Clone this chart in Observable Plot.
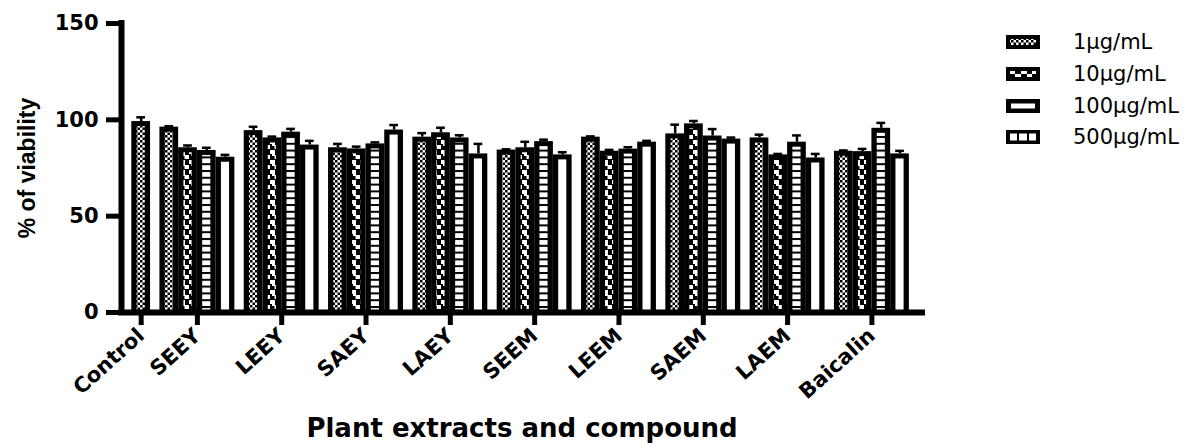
<!DOCTYPE html>
<html><head><meta charset="utf-8">
<script src="https://cdn.jsdelivr.net/npm/d3@7"></script>
<script src="https://cdn.jsdelivr.net/npm/@observablehq/plot@0.6"></script>
<style>
body{margin:0;background:#fff;}
#wrap{position:relative;width:1202px;height:446px;overflow:hidden;}
#legend{position:absolute;left:1006px;top:0;font-family:"DejaVu Sans";font-size:21px;color:#000;}
.row{position:absolute;left:0;height:24px;display:flex;align-items:center;white-space:nowrap;}
.row span{margin-left:33px;}
#chart svg g[aria-label$="tick label"] text{font-weight:bold;}
</style></head><body>
<div id="wrap"><div id="chart"></div><div id="legend"></div></div>
<script>
// ---- data ----
const groups = ["Control","SEEY","LEEY","SAEY","LAEY","SEEM","LEEM","SAEM","LAEM","Baicalin"];
const concentrations = ["1µg/mL","10µg/mL","100µg/mL","500µg/mL"];
const controlValue = 99.1;
const controlError = 2.2;
// per concentration, for extracts SEEY..Baicalin
const c1   = [96.2, 94.4, 85.5, 91.0, 84.3, 91.0, 92.7, 90.6, 83.7];
const c10  = [85.5, 90.6, 84.9, 93.3, 85.5, 83.7, 97.9, 81.8, 83.5];
const c100 = [84.1, 93.6, 87.5, 90.6, 88.7, 84.8, 91.6, 88.4, 95.6];
const c500 = [80.6, 86.9, 94.7, 82.3, 81.8, 88.4, 90.0, 80.2, 82.3];
const e1   = [0.5, 2.0, 2.0, 2.1, 0.4, 0.4, 4.8, 1.7, 0.4];
const e10  = [1.2, 0.7, 1.2, 2.6, 3.1, 0.7, 1.5, 0.5, 1.4];
const e100 = [1.4, 1.7, 0.8, 1.4, 1.0, 1.0, 3.6, 3.5, 2.8];
const e500 = [1.2, 2.2, 2.6, 5.2, 1.4, 0.7, 0.8, 2.1, 1.6];
const yTicks = [0, 50, 100, 150];
const yTitle = "% of viability";
const xTitle = "Plant extracts and compound";

// ---- table built from arrays (slot layout from order) ----
const GAP = 0.5;
const seriesVals = [c1, c10, c100, c500];
const seriesErr = [e1, e10, e100, e500];
const rows = [{group: groups[0], s: 0, value: controlValue, err: controlError, x1: 0}];
const centers = [0.5];
for (let g = 1; g < groups.length; g++) {
  const start = 1 + GAP + (g - 1) * (concentrations.length + GAP);
  centers.push(start + concentrations.length / 2);
  for (let s = 0; s < concentrations.length; s++) {
    rows.push({group: groups[g], s, value: seriesVals[s][g - 1], err: seriesErr[s][g - 1], x1: start + s});
  }
}
const lastX2 = d3.max(rows, d => d.x1 + 1);
const xDomain = [-0.55, lastX2 + 0.7];
const nameByCenter = new Map(centers.map((c, i) => [c, groups[i]]));
const patterns = ["url(#pCheck)", "url(#pWave)", "url(#pLadder)", "#fff"];

const plot = Plot.plot({
  width: 1202, height: 446,
  marginLeft: 121, marginRight: 280, marginTop: 23, marginBottom: 134,
  x: {domain: xDomain, axis: null},
  y: {domain: [0, 150], axis: null},
  style: {fontFamily: "DejaVu Sans", color: "#000", background: "#fff", overflow: "visible"},
  marks: [
    Plot.rect(rows, {x1: "x1", x2: d => d.x1 + 1, y1: 0, y2: "value", fill: "#000"}),
    ...patterns.map((p, k) => Plot.rect(rows.filter(d => d.s === k), {
      x1: "x1", x2: d => d.x1 + 1, y1: 0, y2: "value", fill: p,
      insetLeft: 5.3, insetRight: 5.3, insetTop: 5, insetBottom: 0
    })),
    Plot.ruleX(rows, {x: d => d.x1 + 0.5, y1: "value", y2: d => d.value + d.err, strokeWidth: 2.5}),
    Plot.ruleY(rows, {y: d => d.value + d.err, x1: "x1", x2: d => d.x1 + 1, insetLeft: 5, insetRight: 5, strokeWidth: 2.5}),
    Plot.axisY(yTicks, {tickSize: 15, strokeWidth: 5, tickPadding: 8, fontSize: 21, fontWeight: "bold", label: null}),
    Plot.axisX(centers, {tickSize: 13, strokeWidth: 5, tickPadding: 7, tickRotate: -42, fontSize: 21, fontWeight: "bold",
      tickFormat: d => nameByCenter.get(d), label: null}),
    Plot.ruleX([xDomain[0]], {y1: 0, y2: 150, strokeWidth: 6, strokeLinecap: "square"}),
    Plot.ruleY([0], {x1: xDomain[0], x2: xDomain[1], strokeWidth: 6, strokeLinecap: "square"}),
    Plot.text([yTitle], {frameAnchor: "left", textAnchor: "middle", rotate: -90, dx: -94, fontSize: 23, fontWeight: "bold", fontFamily: "Liberation Sans", text: d => d}),
    Plot.text([xTitle], {frameAnchor: "bottom", textAnchor: "middle", dy: 124, fontSize: 26, fontWeight: "bold", fontFamily: "DejaVu Sans", text: d => d})
  ]
});

// pattern definitions
const ns = "http://www.w3.org/2000/svg";
const defs = d3.select(plot).insert("defs", ":first-child");
const check = defs.append("pattern").attr("id", "pCheck").attr("patternUnits", "userSpaceOnUse").attr("width", 5).attr("height", 5);
check.append("rect").attr("width", 5).attr("height", 5).attr("fill", "#fff");
check.append("rect").attr("width", 2.5).attr("height", 2.5).attr("fill", "#000");
check.append("rect").attr("x", 2.5).attr("y", 2.5).attr("width", 2.5).attr("height", 2.5).attr("fill", "#000");
const wave = defs.append("pattern").attr("id", "pWave").attr("patternUnits", "userSpaceOnUse").attr("width", 9).attr("height", 10);
wave.append("rect").attr("width", 9).attr("height", 10).attr("fill", "#000");
wave.append("rect").attr("x", 0).attr("y", 0).attr("width", 5).attr("height", 4).attr("fill", "#fff");
wave.append("rect").attr("x", 2).attr("y", 4).attr("width", 3).attr("height", 2).attr("fill", "#fff");
wave.append("rect").attr("x", 4.5).attr("y", 5).attr("width", 4.5).attr("height", 4).attr("fill", "#fff");
const ladder = defs.append("pattern").attr("id", "pLadder").attr("patternUnits", "userSpaceOnUse").attr("width", 10).attr("height", 6.8);
ladder.append("rect").attr("width", 10).attr("height", 6.8).attr("fill", "#fff");
ladder.append("rect").attr("width", 10).attr("height", 2).attr("fill", "#000");

document.getElementById("chart").appendChild(plot);

// legend
const legendRows = [42, 74, 106, 137];
const swatchSvgs = [
  '<rect width="34" height="14" fill="#000"/><rect x="4" y="4" width="26" height="6" fill="url(#pCheck)"/>',
  '<rect width="34" height="14" fill="#000"/><rect x="4" y="4" width="5" height="3" fill="#fff"/><rect x="9" y="7" width="6" height="3" fill="#fff"/><rect x="15" y="4" width="6" height="3" fill="#fff"/><rect x="21" y="7" width="5" height="3" fill="#fff"/><rect x="26" y="4" width="4" height="3" fill="#fff"/>',
  '<rect width="34" height="14" fill="#000"/><rect x="5" y="4.5" width="24" height="5" fill="#fff"/>',
  '<rect width="34" height="14" fill="#000"/><rect x="4" y="3.5" width="7" height="7" fill="#fff"/><rect x="13" y="3.5" width="8" height="7" fill="#fff"/><rect x="23" y="3.5" width="7" height="7" fill="#fff"/>'
];
const legend = document.getElementById("legend");
concentrations.forEach((c, i) => {
  const row = document.createElement("div");
  row.className = "row";
  row.style.top = (legendRows[i] - 12) + "px";
  row.innerHTML = `<svg width="34" height="14" xmlns="${ns}">${swatchSvgs[i]}</svg><span>${c}</span>`;
  legend.appendChild(row);
});
</script>
</body></html>
